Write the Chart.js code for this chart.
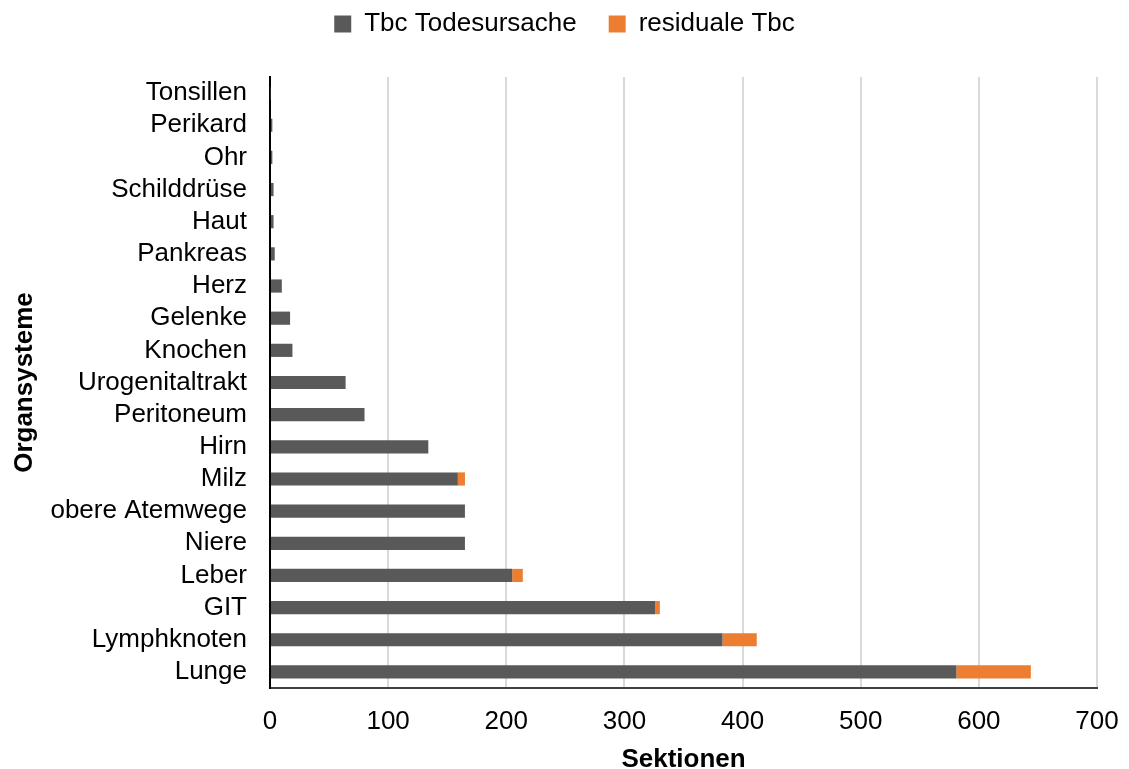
<!DOCTYPE html>
<html lang="de">
<head>
    <meta charset="UTF-8">
    <title>Organsysteme - Sektionen</title>
    <script src="https://cdn.jsdelivr.net/npm/chart.js"></script>
    <style>
        body {
            margin: 0;
            padding: 0;
            background: #ffffff;
        }
        #wrap {
            width: 1129px;
            height: 769px;
        }
    </style>
</head>
<body>
<div id="wrap">
    <canvas id="organChart" width="1129" height="769"></canvas>
</div>
<script>
// Daten
const organe = ['Tonsillen', 'Perikard', 'Ohr', 'Schilddrüse', 'Haut', 'Pankreas', 'Herz', 'Gelenke',
    'Knochen', 'Urogenitaltrakt', 'Peritoneum', 'Hirn', 'Milz', 'obere Atemwege', 'Niere', 'Leber',
    'GIT', 'Lymphknoten', 'Lunge'];
const tbcTodesursache = [0.5, 2, 2, 3, 3, 4, 10, 17, 19, 64, 80, 134, 159, 165, 165, 205, 326, 383, 581];
const residualeTbc = [0, 0, 0, 0, 0, 0, 0, 0, 0, 0, 0, 0, 6, 0, 0, 9, 4, 29, 63];
const xTicks = [0, 100, 200, 300, 400, 500, 600, 700];

const fontFamily = "'Liberation Sans', Arial, sans-serif";

// etwas mehr Platz unter der Legende
const legendSpacer = {
    id: 'legendSpacer',
    beforeInit(chart) {
        const origFit = chart.legend.fit;
        chart.legend.fit = function () {
            origFit.bind(this)();
            this.height += 30;
        };
    }
};

const ctx = document.getElementById('organChart').getContext('2d');

new Chart(ctx, {
    type: 'bar',
    data: {
        labels: organe,
        datasets: [
            {
                label: 'Tbc Todesursache',
                data: tbcTodesursache,
                backgroundColor: '#595959',
                barPercentage: 0.41,
                categoryPercentage: 1.0
            },
            {
                label: 'residuale Tbc',
                data: residualeTbc,
                backgroundColor: '#ED7D31',
                barPercentage: 0.41,
                categoryPercentage: 1.0
            }
        ]
    },
    options: {
        indexAxis: 'y',
        responsive: false,
        animation: false,
        layout: {
            padding: { left: 0, right: 0, top: -21, bottom: 0 }
        },
        plugins: {
            legend: {
                position: 'top',
                labels: {
                    color: '#000000',
                    font: { family: fontFamily, size: 26 },
                    boxWidth: 17,
                    boxHeight: 17,
                    padding: 32
                }
            },
            tooltip: { enabled: false }
        },
        scales: {
            x: {
                stacked: true,
                min: 0,
                max: 700,
                afterBuildTicks: axis => {
                    axis.ticks = xTicks.map(v => ({ value: v }));
                },
                afterFit: axis => {
                    axis.height = 81;
                    axis.paddingLeft = 0;
                    axis.paddingRight = 32;
                },
                grid: {
                    color: '#d9d9d9',
                    lineWidth: 2,
                    drawTicks: false
                },
                border: {
                    display: true,
                    color: '#404040',
                    width: 2
                },
                ticks: {
                    color: '#000000',
                    font: { family: fontFamily, size: 26, lineHeight: 1.0 },
                    padding: 21
                },
                title: {
                    display: true,
                    text: 'Sektionen',
                    color: '#000000',
                    font: { family: fontFamily, size: 26, weight: 'bold', lineHeight: 1.0 },
                    padding: { top: 0, bottom: -4 }
                }
            },
            y: {
                stacked: true,
                afterFit: axis => {
                    axis.width = 270;
                },
                grid: {
                    display: false,
                    drawTicks: false
                },
                border: {
                    display: true,
                    color: '#000000',
                    width: 2
                },
                ticks: {
                    color: '#000000',
                    font: { family: fontFamily, size: 26 },
                    padding: 23,
                    autoSkip: false
                },
                title: {
                    display: true,
                    text: 'Organsysteme',
                    color: '#000000',
                    font: { family: fontFamily, size: 26, weight: 'bold', lineHeight: 1.0 },
                    padding: { top: 12, bottom: 0 }
                }
            }
        }
    },
    plugins: [legendSpacer]
});
</script>
</body>
</html>
